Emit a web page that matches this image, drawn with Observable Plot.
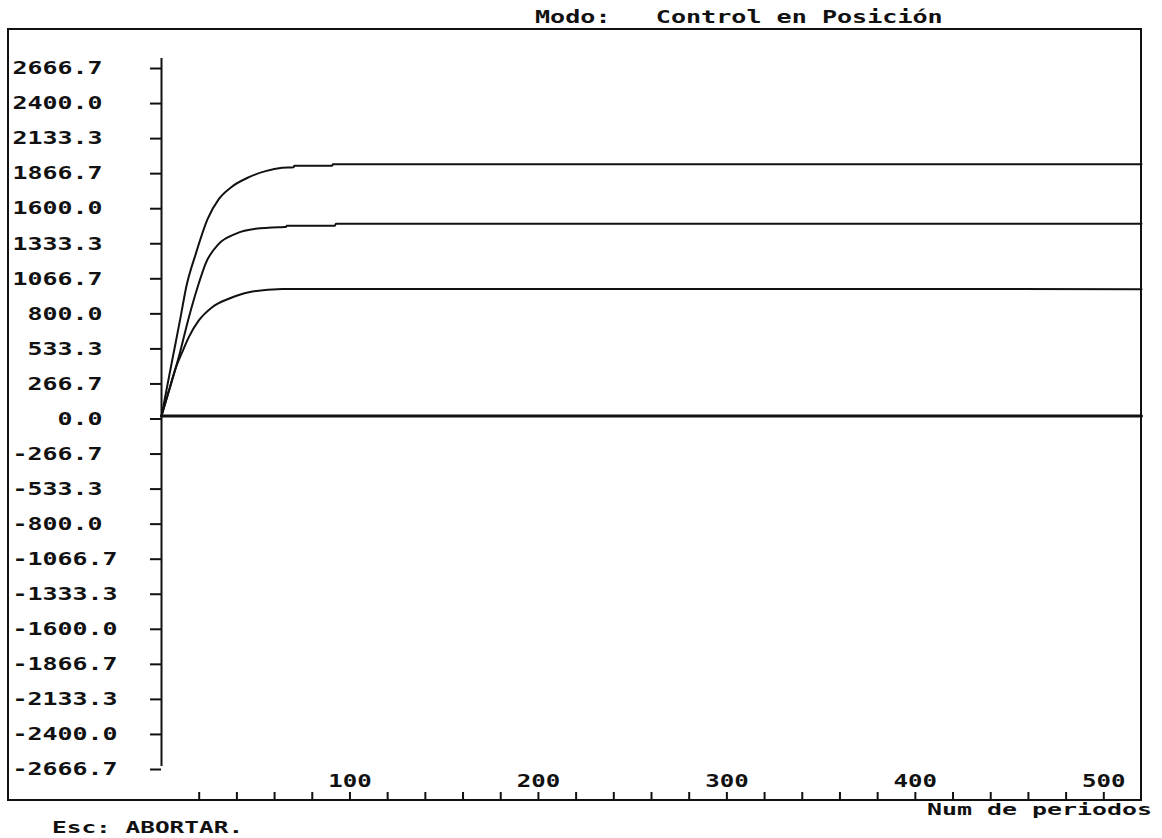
<!DOCTYPE html>
<html><head><meta charset="utf-8">
<script src="https://cdn.jsdelivr.net/npm/d3@7"></script>
<script src="https://cdn.jsdelivr.net/npm/@observablehq/plot@0.6"></script>
<style>
html,body{margin:0;padding:0;background:#fff;overflow:hidden;}
#chart{position:relative;width:1162px;height:838px;}
</style></head><body><div id="chart"></div>
<script>
// ---- texts ----
const titleText = "Modo:   Control en Posición";
const xAxisText = "Num de periodos";
const captionText = "Esc: ABORTAR.";

// ---- ticks ----
const yTicks = [2666.7, 2400.0, 2133.3, 1866.7, 1600.0, 1333.3, 1066.7, 800.0, 533.3, 266.7, 0.0,
  -266.7, -533.3, -800.0, -1066.7, -1333.3, -1600.0, -1866.7, -2133.3, -2400.0, -2666.7];
const xLabelTicks = [100, 200, 300, 400, 500];
const xMinorTicks = [20, 40, 60, 80, 100, 120, 140, 160, 180, 200, 220, 240, 260, 280, 300,
  320, 340, 360, 380, 400, 420, 440, 460, 480, 500];

// ---- series ----
const periodos1 = [0, 4, 7.4, 10.1, 13.1, 18.1, 24.5, 30.4, 37, 46.4, 55.2, 64, 70, 70.5, 90.5, 91, 520];
const valores1  = [0, 300, 550, 750, 980, 1230, 1500, 1650, 1741, 1817, 1863, 1888, 1892, 1904, 1904, 1915, 1915];
const periodos2 = [0, 3.7, 7.4, 9.2, 14.5, 19.8, 23.4, 30.4, 39.3, 49.9, 64, 66, 66.5, 92, 92.5, 520];
const valores2  = [0, 180, 359, 450, 750, 1010, 1160, 1310, 1386, 1424, 1437, 1438, 1448, 1448, 1462, 1462];
const periodos3 = [0, 3.7, 7.4, 11, 14.5, 19.8, 26.9, 35.7, 46.4, 64, 80, 520];
const valores3  = [0, 180, 359, 486, 600, 727, 828, 892, 942, 966, 967, 965];
const periodos0 = [0, 520];
const valores0  = [0, 0];

const curves = [
  ...periodos1.map((p, i) => ({serie: "s1", periodo: p, valor: valores1[i]})),
  ...periodos2.map((p, i) => ({serie: "s2", periodo: p, valor: valores2[i]})),
  ...periodos3.map((p, i) => ({serie: "s3", periodo: p, valor: valores3[i]}))
];
const zero = periodos0.map((p, i) => ({serie: "s0", periodo: p, valor: valores0[i]}));

const ink = "#111";
const plot = Plot.plot({
  width: 1162, height: 838,
  marginLeft: 161, marginRight: 21, marginTop: 65, marginBottom: 72,
  style: {fontFamily: "'DejaVu Sans Mono', monospace", fontSize: "18px", fontWeight: "bold",
          background: "#fff", color: ink, overflow: "visible"},
  x: {domain: [0, 520], label: null},
  y: {domain: [-2666.7, 2666.7], label: null},
  marks: [
    Plot.axisY({ticks: yTicks, tickSize: 11, tickPadding: 138, textAnchor: "start", dy: 3, strokeWidth: 2,
                tickFormat: d => d.toFixed(1).padStart(6, "\u00A0"), label: null}),
    Plot.axisX({ticks: xLabelTicks, tickSize: 0, tickPadding: 8, label: null,
                tickFormat: d => String(d)}),
    Plot.tickX(xMinorTicks, {x: d => d, insetTop: 727, insetBottom: -34, stroke: ink, strokeWidth: 2}),
    Plot.ruleX([0], {insetTop: -7, stroke: ink, strokeWidth: 2}),
    Plot.line(zero, {x: "periodo", y: "valor", stroke: ink, strokeWidth: 3}),
    Plot.line(curves, {x: "periodo", y: "valor", z: "serie", curve: "monotone-x", stroke: ink, strokeWidth: 2})
  ]
});

const svg = d3.select(plot);
// stretch the glyphs to the wide cells of the original screen font
function stretch(sel, cell) {
  sel.each(function () {
    const n = this.textContent.length;
    this.setAttribute("textLength", n * cell);
    this.setAttribute("lengthAdjust", "spacingAndGlyphs");
  });
}
stretch(svg.selectAll('g[aria-label="y-axis tick label"] text'), 15);
stretch(svg.selectAll('g[aria-label="x-axis tick label"] text'), 14.5);

svg.append("rect").attr("x", 8).attr("y", 29).attr("width", 1133).attr("height", 771)
  .attr("fill", "none").attr("stroke", ink).attr("stroke-width", 2);
const t1 = svg.append("text").attr("x", 535).attr("y", 23).attr("text-anchor", "start")
  .style("font-size", "17px").style("white-space", "pre").text(titleText);
const t2 = svg.append("text").attr("x", 927).attr("y", 815).attr("text-anchor", "start")
  .style("font-size", "16px").style("white-space", "pre").text(xAxisText);
const t3 = svg.append("text").attr("x", 52).attr("y", 833).attr("text-anchor", "start")
  .style("font-size", "15.5px").style("white-space", "pre").text(captionText);
stretch(t1, 15.1);
stretch(t2, 15);
stretch(t3, 14.7);

document.getElementById("chart").appendChild(plot);
</script>
</body></html>
